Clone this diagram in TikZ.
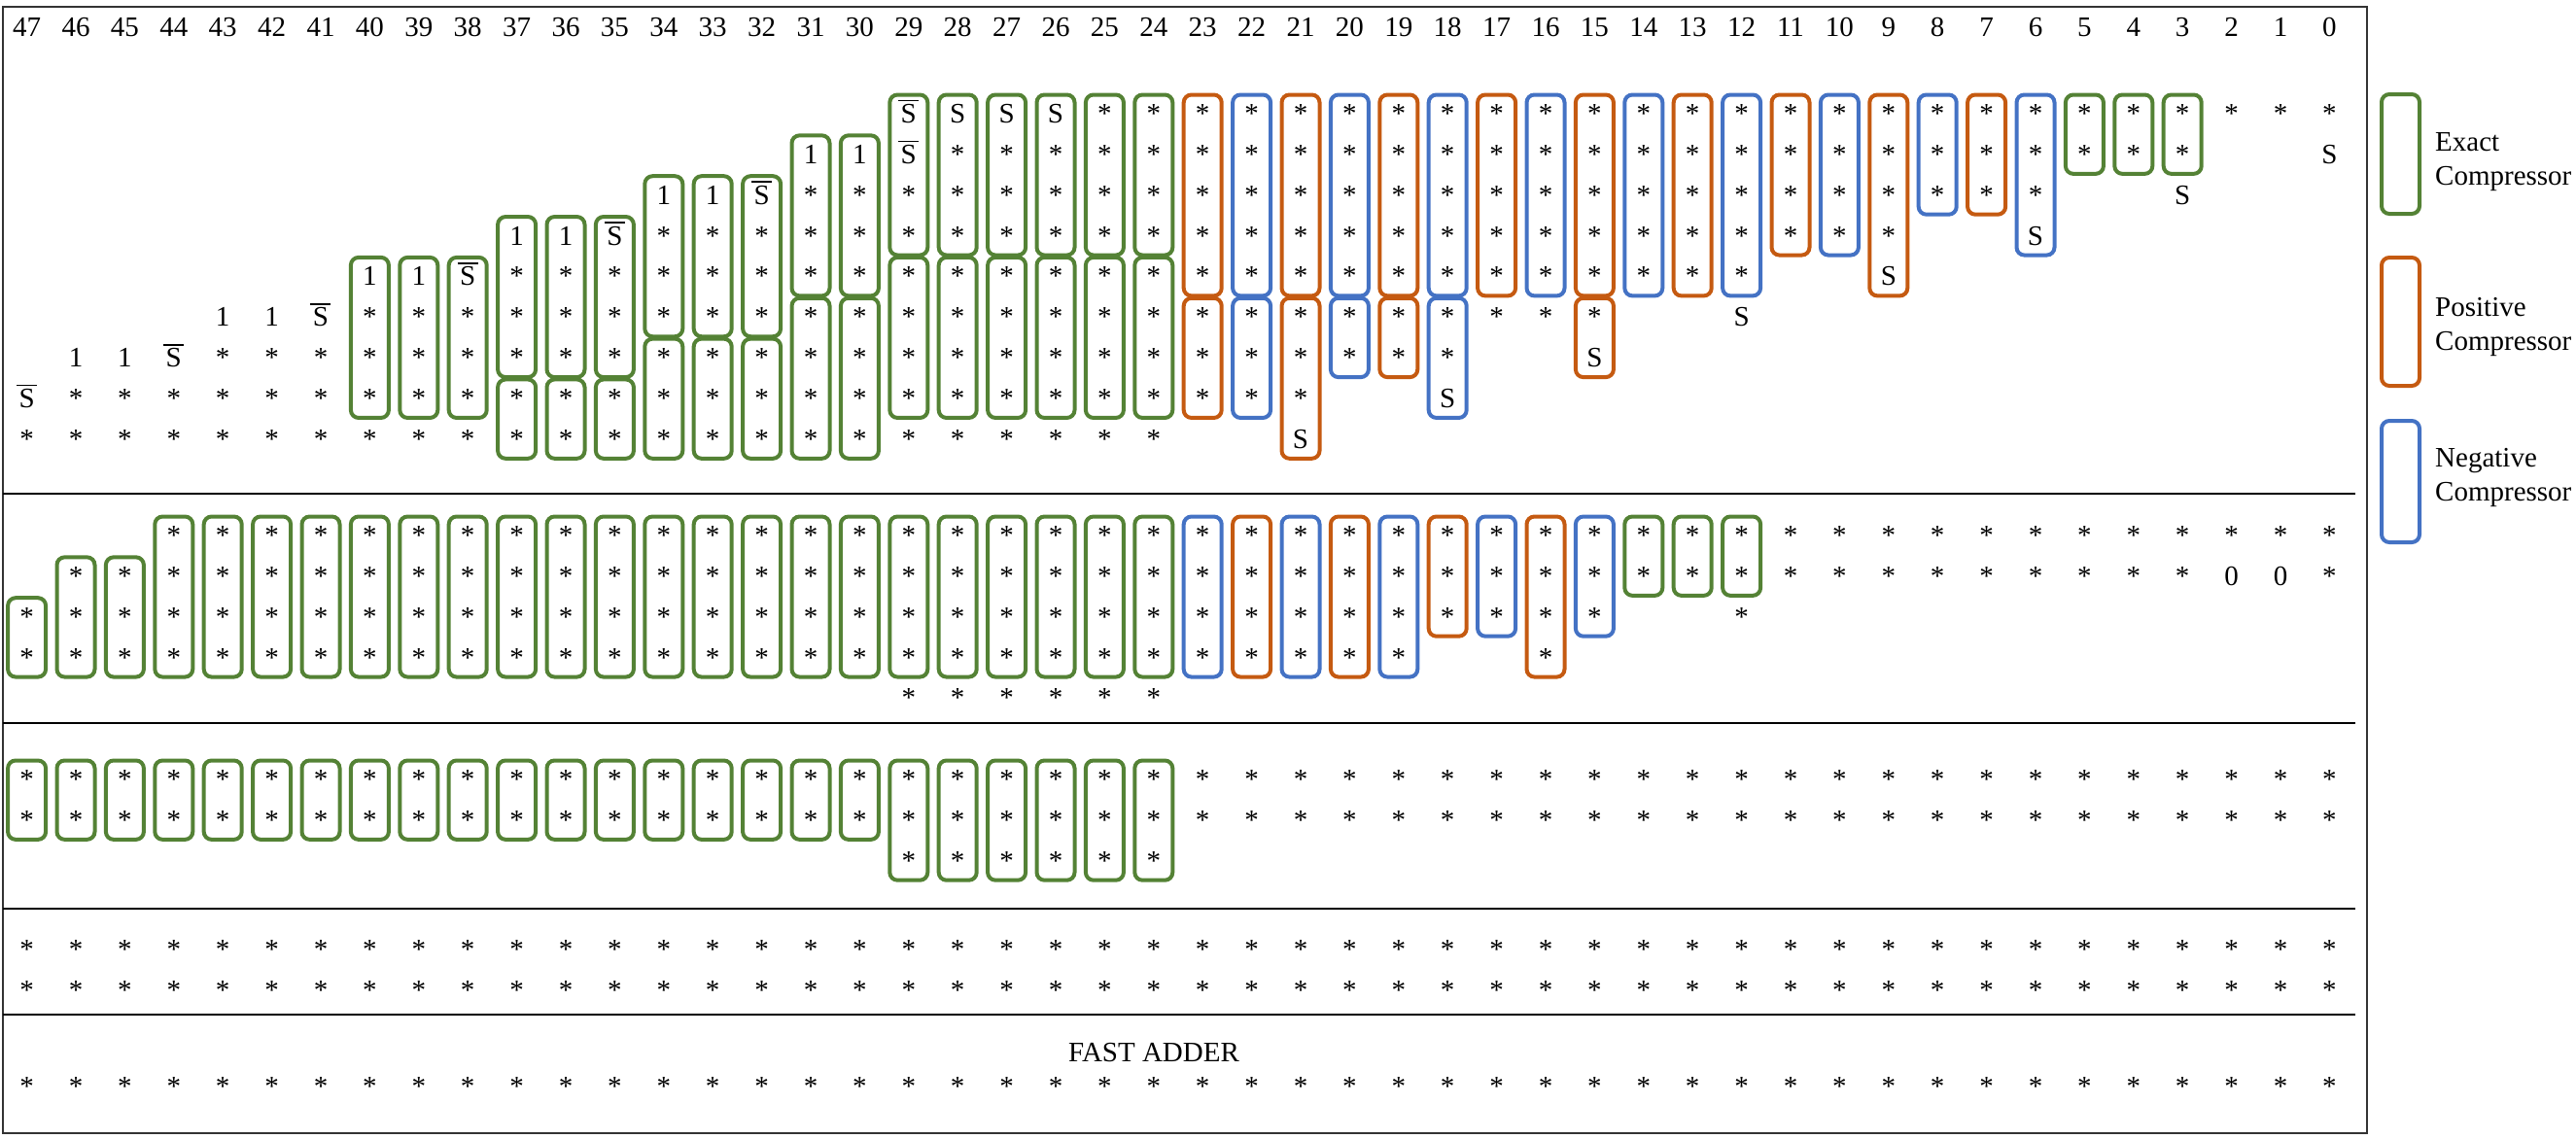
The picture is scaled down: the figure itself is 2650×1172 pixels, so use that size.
\documentclass[tikz,border=0pt]{standalone}
\usepackage{fontspec}
\setmainfont{Liberation Serif}
\definecolor{cg}{HTML}{548235}
\definecolor{co}{HTML}{C55A11}
\definecolor{cb}{HTML}{4472C4}
\newcommand\SB{\makebox[0pt][l]{\hspace{-2.5pt}\smash{\rule[22pt]{21pt}{1.8pt}}}S}
\newcommand\dotn[4]{\node[dt] (p#1-#2-#3) at ({27.6+(47-#2)*50.4},{#1+#3*41.85}) {#4};}
\newcommand\colr[5]{\foreach \rr in {#3,...,#4}{\dotn{#1}{#2}{\rr}{#5}}}
\newcommand\cbx[5]{\draw[#1] ({27.6+(47-#3)*50.4-19.5},{#2+#4*41.85-19.5}) rectangle ({27.6+(47-#3)*50.4+19.5},{#2+#5*41.85+20});}
\begin{document}
\begin{tikzpicture}[x=1pt,y=-1pt,
  every node/.style={font=\fontsize{29}{35}\selectfont},
  dt/.style={inner sep=0pt,outer sep=0pt},
  gb/.style={draw=cg,line width=4pt,rounded corners=8pt},
  ob/.style={draw=co,line width=4pt,rounded corners=8pt},
  bb/.style={draw=cb,line width=4pt,rounded corners=8pt},
  legtext/.style={anchor=west,align=left,inner sep=0pt}]
\useasboundingbox (0,0) rectangle (2650,1172);
\draw[line width=2pt,black!80] (3,7) rectangle (2435,1166);
\foreach \y in {508,744,935,1044}{\draw[line width=2.5pt] (3,\y) -- (2423,\y);}
% column numbers
\foreach \c in {0,...,47}{\node[dt] (h\c) at ({27.6+(47-\c)*50.4},28) {\c};}
% ---------- section A ----------
\dotn{117}{47}{7}{\SB}\dotn{117}{47}{8}{*}
\foreach \c in {46,45}{\dotn{117}{\c}{6}{1}\colr{117}{\c}{7}{8}{*}}
\dotn{117}{44}{6}{\SB}\colr{117}{44}{7}{8}{*}
\foreach \c in {43,42}{\dotn{117}{\c}{5}{1}\colr{117}{\c}{6}{8}{*}}
\dotn{117}{41}{5}{\SB}\colr{117}{41}{6}{8}{*}
\foreach \c/\tx in {40/1,39/1,38/\SB}{\dotn{117}{\c}{4}{\tx}\colr{117}{\c}{5}{8}{*}\cbx{gb}{117}{\c}{4}{7}}
\foreach \c/\tx in {37/1,36/1,35/\SB}{\dotn{117}{\c}{3}{\tx}\colr{117}{\c}{4}{8}{*}\cbx{gb}{117}{\c}{3}{6}\cbx{gb}{117}{\c}{7}{8}}
\foreach \c/\tx in {34/1,33/1,32/\SB}{\dotn{117}{\c}{2}{\tx}\colr{117}{\c}{3}{8}{*}\cbx{gb}{117}{\c}{2}{5}\cbx{gb}{117}{\c}{6}{8}}
\foreach \c in {31,30}{\dotn{117}{\c}{1}{1}\colr{117}{\c}{2}{8}{*}\cbx{gb}{117}{\c}{1}{4}\cbx{gb}{117}{\c}{5}{8}}
\dotn{117}{29}{0}{\SB}\dotn{117}{29}{1}{\SB}\colr{117}{29}{2}{8}{*}
\foreach \c in {28,27,26}{\dotn{117}{\c}{0}{S}\colr{117}{\c}{1}{8}{*}}
\foreach \c in {25,24}{\colr{117}{\c}{0}{8}{*}}
\foreach \c in {29,...,24}{\cbx{gb}{117}{\c}{0}{3}\cbx{gb}{117}{\c}{4}{7}}
\foreach \c/\nn in {23/7,22/7,21/7,20/6,19/6,18/6,17/5,16/5,15/5,14/4,13/4,12/4,11/3,10/3,9/3,8/2,7/2,6/2,5/1,4/1,3/1}{\colr{117}{\c}{0}{\nn}{*}}
\dotn{117}{21}{8}{S}\dotn{117}{18}{7}{S}\dotn{117}{15}{6}{S}\dotn{117}{12}{5}{S}
\dotn{117}{9}{4}{S}\dotn{117}{6}{3}{S}\dotn{117}{3}{2}{S}\dotn{117}{0}{1}{S}
\dotn{117}{2}{0}{*}\dotn{117}{1}{0}{*}\dotn{117}{0}{0}{*}
\foreach \c/\st in {23/ob,22/bb,21/ob,20/bb,19/ob,18/bb,17/ob,16/bb,15/ob,14/bb,13/ob,12/bb,9/ob}{\cbx{\st}{117}{\c}{0}{4}}
\cbx{ob}{117}{11}{0}{3}\cbx{bb}{117}{10}{0}{3}\cbx{bb}{117}{6}{0}{3}
\cbx{bb}{117}{8}{0}{2}\cbx{ob}{117}{7}{0}{2}
\foreach \c in {5,4,3}{\cbx{gb}{117}{\c}{0}{1}}
\cbx{ob}{117}{23}{5}{7}\cbx{bb}{117}{22}{5}{7}\cbx{ob}{117}{21}{5}{8}\cbx{bb}{117}{20}{5}{6}
\cbx{ob}{117}{19}{5}{6}\cbx{bb}{117}{18}{5}{7}\cbx{ob}{117}{15}{5}{6}
% ---------- section B ----------
\colr{551}{47}{2}{3}{*}\cbx{gb}{551}{47}{2}{3}
\foreach \c in {46,45}{\colr{551}{\c}{1}{3}{*}\cbx{gb}{551}{\c}{1}{3}}
\foreach \c in {44,...,30}{\colr{551}{\c}{0}{3}{*}\cbx{gb}{551}{\c}{0}{3}}
\foreach \c in {29,...,24}{\colr{551}{\c}{0}{4}{*}\cbx{gb}{551}{\c}{0}{3}}
\foreach \c/\st/\nn in {23/bb/3,22/ob/3,21/bb/3,20/ob/3,19/bb/3,18/ob/2,17/bb/2,16/ob/3,15/bb/2,14/gb/1,13/gb/1,12/gb/1}{\colr{551}{\c}{0}{\nn}{*}\cbx{\st}{551}{\c}{0}{\nn}}
\dotn{551}{12}{2}{*}
\foreach \c in {11,...,0}{\dotn{551}{\c}{0}{*}}
\foreach \c in {11,...,3}{\dotn{551}{\c}{1}{*}}
\dotn{551}{2}{1}{0}\dotn{551}{1}{1}{0}\dotn{551}{0}{1}{*}
% ---------- section C ----------
\foreach \c in {47,...,30}{\colr{802}{\c}{0}{1}{*}\cbx{gb}{802}{\c}{0}{1}}
\foreach \c in {29,...,24}{\colr{802}{\c}{0}{2}{*}\cbx{gb}{802}{\c}{0}{2}}
\foreach \c in {23,...,0}{\colr{802}{\c}{0}{1}{*}}
% ---------- section D ----------
\foreach \c in {47,...,0}{\colr{977}{\c}{0}{1}{*}}
% ---------- section E ----------
\foreach \c in {47,...,0}{\dotn{1118}{\c}{0}{*}}
\node[dt] (fa) at (1187,1083) {FAST ADDER};
% ---------- legend ----------
\draw[gb] (2450,97) rectangle (2489,220);
\node[legtext] (lg) at (2505,167) {Exact\\Compressor};
\draw[ob] (2450,265) rectangle (2489,397);
\node[legtext] (lo) at (2505,336) {Positive\\Compressor};
\draw[bb] (2450,433) rectangle (2489,558);
\node[legtext] (lb) at (2505,491) {Negative\\Compressor};
\end{tikzpicture}
\end{document}
